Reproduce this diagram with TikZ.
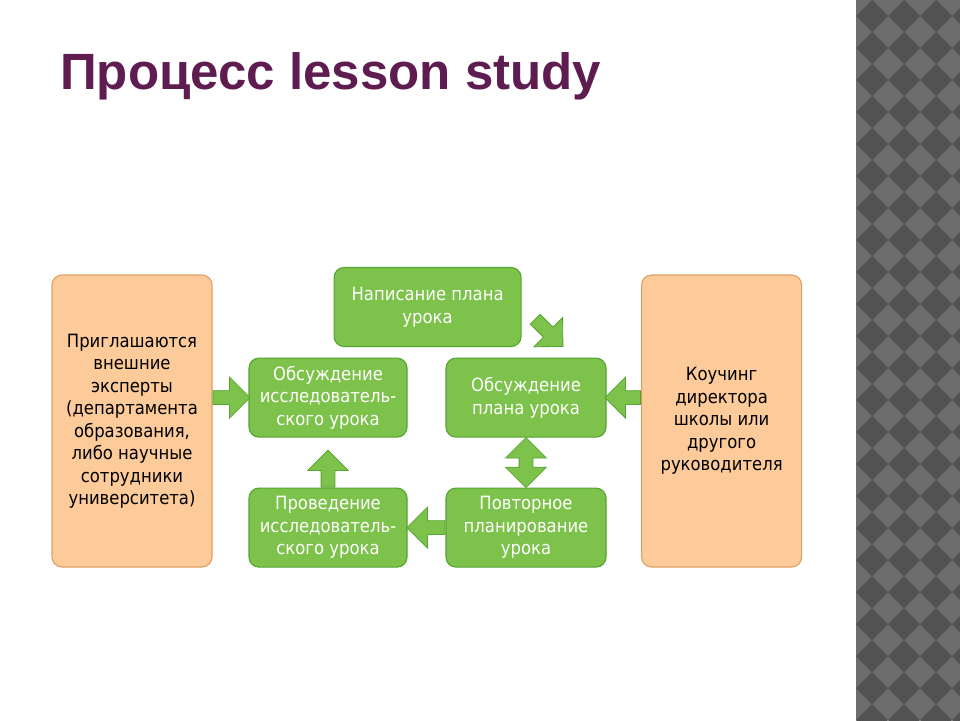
\documentclass[tikz,border=0pt]{standalone}
\usepackage{fontspec}
\usepackage{xcolor}
\usepackage{tikz}
\usetikzlibrary{shapes.arrows,calc}
\setmainfont{Liberation Sans}
\newfontfamily\boxfont[FakeStretch=0.9]{DejaVu Sans}

\definecolor{stepgreen}{RGB}{125,194,75}
\definecolor{stepedge}{RGB}{86,164,50}
\definecolor{sidefill}{RGB}{252,203,153}
\definecolor{sideedge}{RGB}{222,160,98}
\definecolor{titlecol}{RGB}{94,28,80}
\definecolor{striplight}{RGB}{108,108,108}
\definecolor{stripdark}{RGB}{82,82,82}

\begin{document}
\begin{tikzpicture}[
    stepbox/.style={rectangle, rounded corners=0.25cm, draw=stepedge, line width=0.8pt, fill=stepgreen, text=white, align=center, minimum width=3.95cm, minimum height=1.975cm, inner sep=0pt, font=\boxfont\fontsize{13}{16}\selectfont},
    sidebox/.style={rectangle, rounded corners=0.25cm, draw=sideedge, line width=0.8pt, fill=sidefill, text=black, align=center, minimum width=4cm, minimum height=7.3cm, inner sep=0pt, font=\boxfont\fontsize{13}{16}\selectfont},
    flow/.style={single arrow, draw=stepedge, line width=0.6pt, fill=stepgreen, inner xsep=0pt, inner ysep=0.1625cm, single arrow head extend=0.3375cm, minimum width=1cm, sloped, allow upside down, anchor=tail, pos=0},
    twoway/.style={double arrow, draw=stepedge, line width=0.6pt, fill=stepgreen, inner xsep=0pt, inner ysep=0.1625cm, double arrow head extend=0.3375cm, minimum width=1cm, sloped}
]
    \useasboundingbox (0,0) rectangle (24,-18);
    \fill[white] (0,0) rectangle (24,-18);

    % Side strip
    \begin{scope}
        \clip (21.4,0) rectangle (24,-18);
        \fill[striplight] (21.4,0) rectangle (24,-18);
        \foreach \i in {0,...,3}
            \foreach \j in {0,...,22}
                \fill[stripdark] ({21.8+0.8*\i},{-0.4-0.8*\j}) ++(0.4,0) -- ++(-0.4,0.4) -- ++(-0.4,-0.4) -- ++(0.4,-0.4) -- cycle;
    \end{scope}

    % Title
    \node[anchor=base west, inner sep=0pt, text=titlecol, font=\fontsize{36.3}{43}\selectfont\bfseries] (title) at (1.5,-2.24) {Процесс lesson study};

    % Outside support
    \node[sidebox] (expert) at (3.3,-10.525) {Приглашаются\\внешние\\эксперты\\(департамента\\образования,\\либо научные\\сотрудники\\университета)};
    \node[sidebox] (coach) at (18.04,-10.525) {Коучинг\\директора\\школы или\\другого\\руководителя};

    % Cycle steps
    \node[stepbox, minimum width=4.675cm] (write) at (10.69,-7.675) {Написание плана\\урока};
    \node[stepbox] (discR) at (8.2,-9.94) {Обсуждение\\исследователь-\\ского урока};
    \node[stepbox, minimum width=4cm] (discP) at (13.15,-9.94) {Обсуждение\\плана урока};
    \node[stepbox] (conduct) at (8.2,-13.19) {Проведение\\исследователь-\\ского урока};
    \node[stepbox, minimum width=4cm] (replan) at (13.15,-13.19) {Повторное\\планирование\\урока};

    % Block arrows
    \path ($(write.east)+(0.33,-0.3)$) -- node[flow, minimum height=0.97cm] {} ($(discP.north)+(0.9,0.3)$);
    \path (expert.east |- discR.west) -- node[flow, minimum height=0.925cm] {} (discR.west);
    \path (coach.west |- discP.east) -- node[flow, minimum height=0.89cm] {} (discP.east);
    \path (discP.south) -- node[twoway, minimum height=1.25cm] {} (replan.north);
    \path (replan.west) -- node[flow, minimum height=0.95cm] {} (conduct.east);
    \path (conduct.north) -- node[flow, minimum height=0.925cm] {} (discR.south);
\end{tikzpicture}
\end{document}
